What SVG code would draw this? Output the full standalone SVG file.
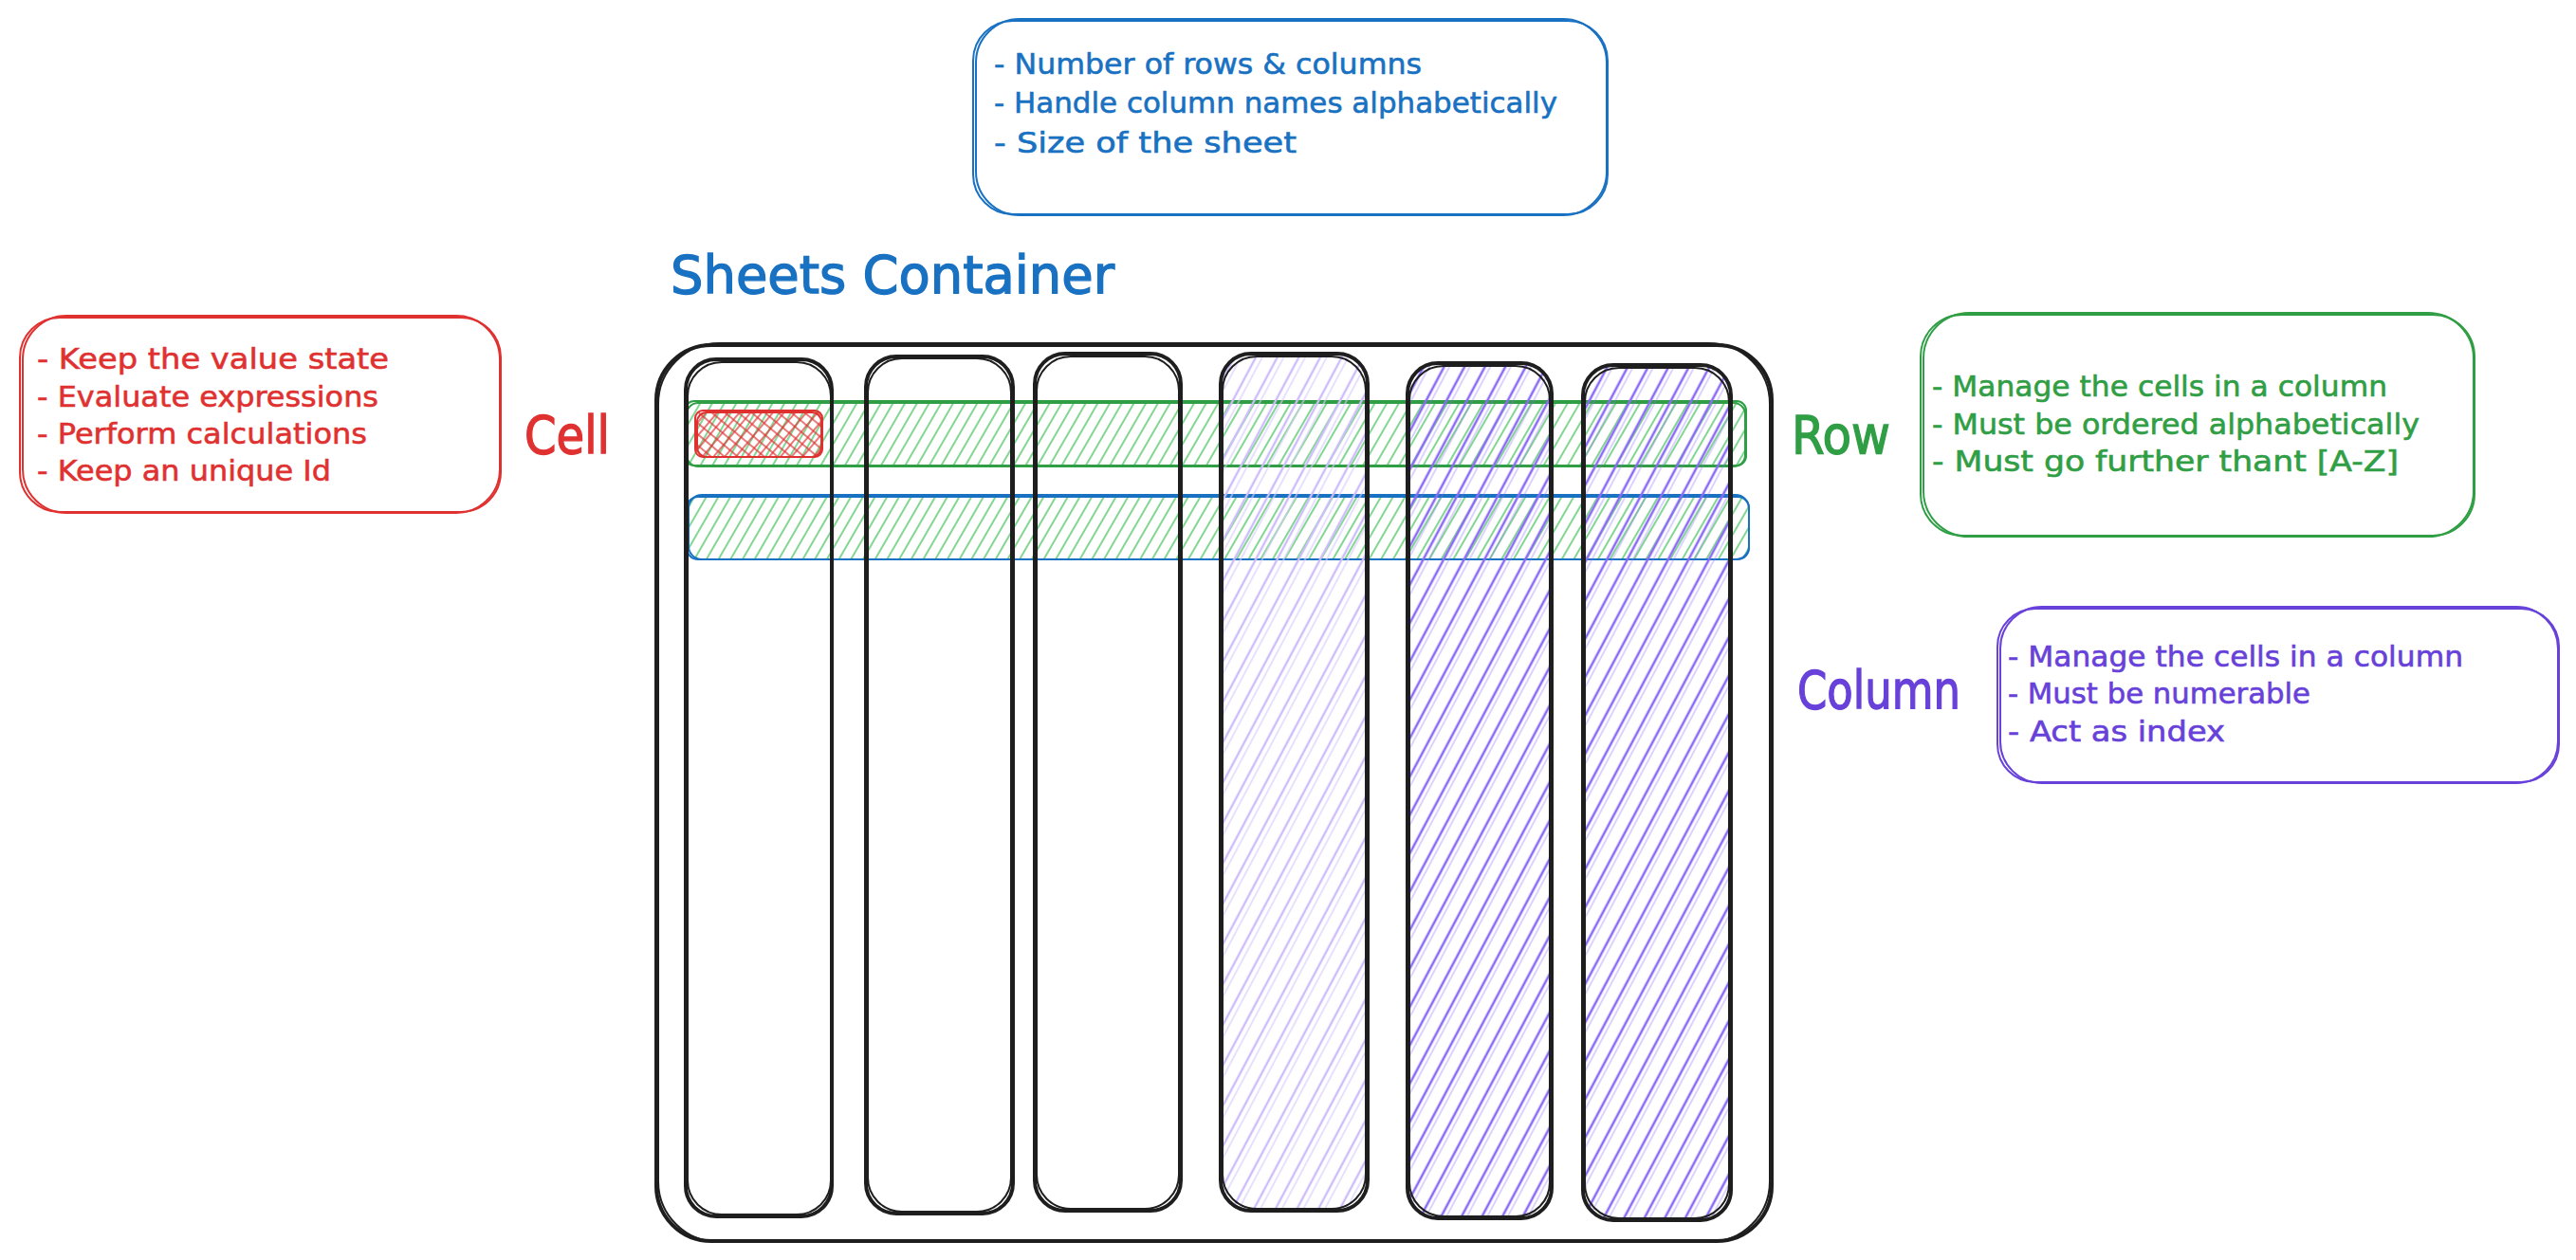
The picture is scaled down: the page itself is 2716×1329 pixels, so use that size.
<svg xmlns="http://www.w3.org/2000/svg" width="2716" height="1329" viewBox="0 0 2716 1329">
<style>
.t{font-family:"DejaVu Sans","Liberation Sans",sans-serif;font-size:31px;stroke-width:0.6px}
.lbl{font-family:"DejaVu Sans","Liberation Sans",sans-serif;font-size:56px;stroke-width:1.4px}
.blue{fill:#1971c2;stroke:#1971c2}.red{fill:#e03131;stroke:#e03131}.green{fill:#2f9e44;stroke:#2f9e44}.violet{fill:#6741d9;stroke:#6741d9}
.sb{fill:none;stroke:#1971c2;stroke-width:2}
.sr{fill:none;stroke:#e03131;stroke-width:2}
.sg{fill:none;stroke:#2f9e44;stroke-width:2}
.sv{fill:none;stroke:#6741d9;stroke-width:2}
.sk{fill:none;stroke:#1e1e1e;stroke-width:4;stroke-linejoin:round}
.sk2{fill:none;stroke:#1e1e1e;stroke-width:2}
</style>
<defs>
<pattern id="hGreen" patternUnits="userSpaceOnUse" width="11" height="40" patternTransform="rotate(30)">
<line x1="5" y1="0" x2="5" y2="40" stroke="#40c057" stroke-width="1.3"/>
</pattern>
<pattern id="hViolet" patternUnits="userSpaceOnUse" width="19" height="40" patternTransform="rotate(28)">
<line x1="6" y1="0" x2="6" y2="40" stroke="#8c6cf5" stroke-width="2.6"/>
<line x1="11" y1="0" x2="11" y2="40" stroke="#8c6cf5" stroke-width="1" opacity="0.6"/>
</pattern>
<pattern id="hLight" patternUnits="userSpaceOnUse" width="20" height="40" patternTransform="rotate(28)">
<line x1="6" y1="0" x2="6" y2="40" stroke="#cdbdfb" stroke-width="2.4"/>
<line x1="12" y1="0" x2="12" y2="40" stroke="#d8ccfc" stroke-width="1.2"/>
</pattern>
<pattern id="hRed" patternUnits="userSpaceOnUse" width="9" height="9" patternTransform="rotate(40)">
<line x1="4" y1="0" x2="4" y2="9" stroke="#e03131" stroke-width="1.3"/>
<line x1="0" y1="4" x2="9" y2="4" stroke="#e03131" stroke-width="1.3"/>
</pattern>
</defs>
<rect width="2716" height="1329" fill="#ffffff"/>

<g id="info-sheet">
<rect class="sb" x="1026" y="22" width="669" height="204" rx="42"/>
<rect class="sb" x="1029" y="20" width="665" height="207" rx="46" stroke-width="1.3"/>
<text class="t blue" x="1048" y="78" textLength="451" lengthAdjust="spacingAndGlyphs">- Number of rows &amp; columns</text>
<text class="t blue" x="1048" y="119" textLength="594" lengthAdjust="spacingAndGlyphs">- Handle column names alphabetically</text>
<text class="t blue" x="1048" y="161" textLength="319" lengthAdjust="spacingAndGlyphs">- Size of the sheet</text>
</g>

<g id="title-sheets-container">
<text class="lbl blue" x="707" y="309" textLength="468" lengthAdjust="spacingAndGlyphs">Sheets Container</text>
</g>

<g id="info-cell">
<rect class="sr" x="21" y="335" width="507" height="205" rx="42"/>
<rect class="sr" x="24" y="333" width="503" height="208" rx="46" stroke-width="1.3"/>
<text class="t red" x="39" y="389" textLength="371" lengthAdjust="spacingAndGlyphs">- Keep the value state</text>
<text class="t red" x="39" y="429" textLength="360" lengthAdjust="spacingAndGlyphs">- Evaluate expressions</text>
<text class="t red" x="39" y="468" textLength="348" lengthAdjust="spacingAndGlyphs">- Perform calculations</text>
<text class="t red" x="39" y="507" textLength="310" lengthAdjust="spacingAndGlyphs">- Keep an unique Id</text>
</g>
<g id="label-cell"><text class="lbl red" x="553" y="478" textLength="90" lengthAdjust="spacingAndGlyphs">Cell</text></g>

<g id="container">
<rect class="sk" x="692" y="364" width="1176" height="945" rx="58" stroke-width="4.5"/>
<rect class="sk2" x="694" y="362" width="1172" height="948" rx="64"/>
</g>

<g id="row-1">
<rect x="722" y="423" width="1119" height="68" rx="10" fill="url(#hGreen)"/>
<rect class="sg" x="722" y="423" width="1119" height="68" rx="10" stroke-width="2.6"/>
<rect class="sg" x="724" y="425" width="1116" height="67" rx="12" stroke-width="1.2"/>
</g>
<g id="row-2">
<rect x="724" y="524" width="1120" height="66" rx="12" fill="url(#hGreen)"/>
<rect class="sb" x="724" y="524" width="1120" height="66" rx="12" stroke-width="2.6"/>
<rect class="sb" x="726" y="522" width="1118" height="68" rx="14" stroke-width="1.2"/>
</g>

<g id="column-1">
<rect class="sk" x="723" y="379" width="154" height="904" rx="32"/>
<rect class="sk2" x="725" y="382" width="151" height="899" rx="36"/>
</g>
<g id="column-2">
<rect class="sk" x="913" y="376" width="155" height="904" rx="32"/>
<rect class="sk2" x="915" y="378" width="151" height="900" rx="36"/>
</g>
<g id="column-3">
<rect class="sk" x="1091" y="373" width="154" height="904" rx="32"/>
<rect class="sk2" x="1093" y="376" width="150" height="899" rx="36"/>
</g>
<g id="column-4">
<rect x="1287" y="373" width="155" height="904" rx="32" fill="url(#hLight)"/>
<rect class="sk" x="1287" y="373" width="155" height="904" rx="32"/>
<rect class="sk2" x="1289" y="376" width="151" height="899" rx="36"/>
</g>
<g id="column-5">
<rect x="1484" y="383" width="152" height="902" rx="32" fill="url(#hViolet)"/>
<rect class="sk" x="1484" y="383" width="152" height="902" rx="32"/>
<rect class="sk2" x="1486" y="386" width="148" height="897" rx="36"/>
</g>
<g id="column-6">
<rect x="1669" y="385" width="156" height="902" rx="32" fill="url(#hViolet)"/>
<rect class="sk" x="1669" y="385" width="156" height="902" rx="32"/>
<rect class="sk2" x="1671" y="388" width="152" height="897" rx="36"/>
</g>

<g id="cell">
<rect x="733" y="433" width="134" height="49" rx="8" fill="url(#hRed)"/>
<rect class="sr" x="733" y="433" width="134" height="49" rx="8" stroke-width="3"/>
<rect class="sr" x="735" y="435" width="131" height="47" rx="10" stroke-width="1.2"/>
</g>

<g id="label-row"><text class="lbl green" x="1889" y="478" textLength="104" lengthAdjust="spacingAndGlyphs">Row</text></g>
<g id="info-row">
<rect class="sg" x="2025" y="332" width="584" height="233" rx="44"/>
<rect class="sg" x="2028" y="330" width="580" height="236" rx="48" stroke-width="1.3"/>
<text class="t green" x="2037" y="418" textLength="480" lengthAdjust="spacingAndGlyphs">- Manage the cells in a column</text>
<text class="t green" x="2037" y="458" textLength="514" lengthAdjust="spacingAndGlyphs">- Must be ordered alphabetically</text>
<text class="t green" x="2037" y="497" textLength="492" lengthAdjust="spacingAndGlyphs">- Must go further thant [A-Z]</text>
</g>

<g id="label-column"><text class="lbl violet" x="1895" y="747" textLength="172" lengthAdjust="spacingAndGlyphs">Column</text></g>
<g id="info-column">
<rect class="sv" x="2106" y="642" width="592" height="183" rx="40"/>
<rect class="sv" x="2109" y="640" width="588" height="186" rx="44" stroke-width="1.3"/>
<text class="t violet" x="2117" y="703" textLength="480" lengthAdjust="spacingAndGlyphs">- Manage the cells in a column</text>
<text class="t violet" x="2117" y="742" textLength="319" lengthAdjust="spacingAndGlyphs">- Must be numerable</text>
<text class="t violet" x="2117" y="782" textLength="229" lengthAdjust="spacingAndGlyphs">- Act as index</text>
</g>

<g id="connectors"/>
</svg>
